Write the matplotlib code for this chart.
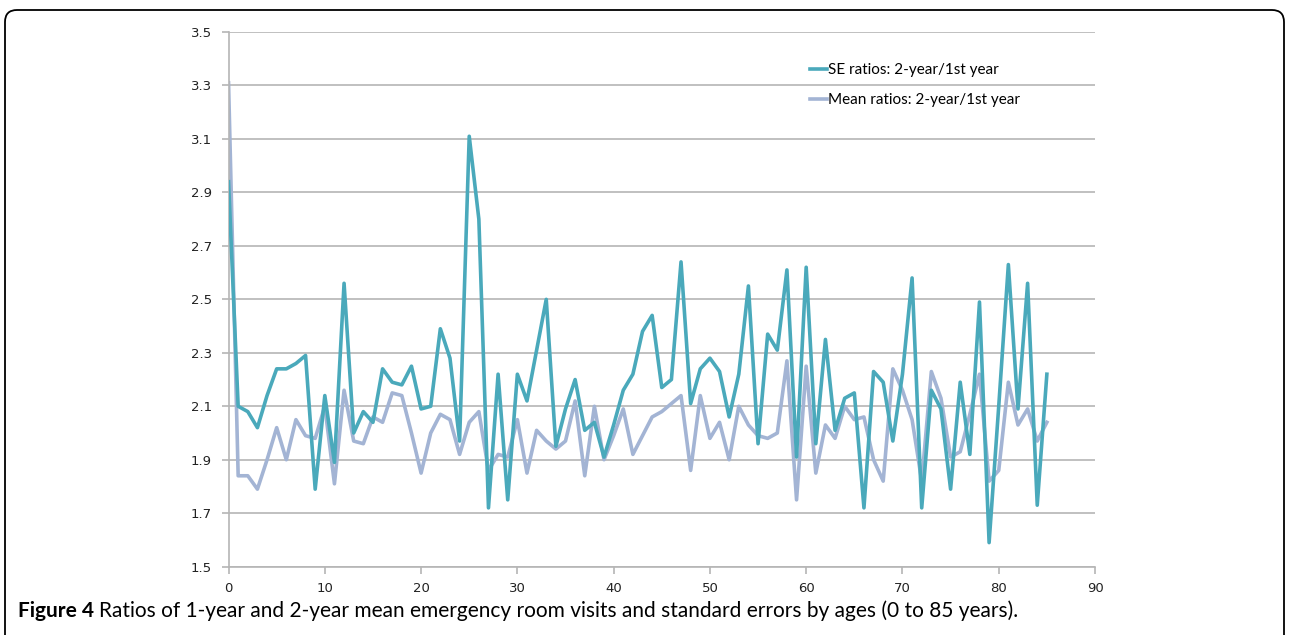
import matplotlib
matplotlib.use("Agg")
import matplotlib.pyplot as plt
from matplotlib.patches import FancyBboxPatch

# ages 0..85
ages = list(range(86))

se_ratio = [2.94, 2.10, 2.08, 2.02, 2.14, 2.24, 2.24, 2.26, 2.29, 1.79,
            2.14, 1.89, 2.56, 2.00, 2.08, 2.04, 2.24, 2.19, 2.18, 2.25,
            2.09, 2.10, 2.39, 2.28, 1.97, 3.11, 2.80, 1.72, 2.22, 1.75,
            2.22, 2.12, 2.31, 2.50, 1.95, 2.09, 2.20, 2.01, 2.04, 1.91,
            2.03, 2.16, 2.22, 2.38, 2.44, 2.17, 2.20, 2.64, 2.11, 2.24,
            2.28, 2.23, 2.06, 2.22, 2.55, 1.96, 2.37, 2.31, 2.61, 1.91,
            2.62, 1.96, 2.35, 2.01, 2.13, 2.15, 1.72, 2.23, 2.19, 1.97,
            2.22, 2.58, 1.72, 2.16, 2.09, 1.79, 2.19, 1.92, 2.49, 1.59,
            2.10, 2.63, 2.09, 2.56, 1.73, 2.22]

mean_ratio = [3.31, 1.84, 1.84, 1.79, 1.90, 2.02, 1.90, 2.05, 1.99, 1.98,
              2.10, 1.81, 2.16, 1.97, 1.96, 2.06, 2.04, 2.15, 2.14, 2.00,
              1.85, 2.00, 2.07, 2.05, 1.92, 2.04, 2.08, 1.86, 1.92, 1.91,
              2.05, 1.85, 2.01, 1.97, 1.94, 1.97, 2.12, 1.84, 2.10, 1.90,
              1.99, 2.09, 1.92, 1.99, 2.06, 2.08, 2.11, 2.14, 1.86, 2.14,
              1.98, 2.04, 1.90, 2.10, 2.03, 1.99, 1.98, 2.00, 2.27, 1.75,
              2.25, 1.85, 2.03, 1.98, 2.10, 2.05, 2.06, 1.90, 1.82, 2.24,
              2.16, 2.05, 1.82, 2.23, 2.13, 1.91, 1.93, 2.07, 2.22, 1.82,
              1.86, 2.19, 2.03, 2.09, 1.97, 2.04]

y_ticks = [1.5, 1.7, 1.9, 2.1, 2.3, 2.5, 2.7, 2.9, 3.1, 3.3, 3.5]
x_ticks = [0, 10, 20, 30, 40, 50, 60, 70, 80, 90]

fig = plt.figure(figsize=(12.89, 6.35), dpi=100)
ax = fig.add_axes([0.1773, 0.1076, 0.6722, 0.842])

grid_col = "#b5b5b5"
ax.plot(ages, se_ratio, color="#4aa9bb", lw=2.6, label="SE ratios: 2-year/1st year", zorder=3)
ax.plot(ages, mean_ratio, color="#a3b4d4", lw=2.6, label="Mean ratios: 2-year/1st year", zorder=2)

ax.set_xlim(0, 90)
ax.set_ylim(1.5, 3.5)
ax.set_yticks(y_ticks)
ax.set_yticklabels(["%.1f" % v for v in y_ticks])
ax.set_xticks(x_ticks)
ax.yaxis.grid(True, color=grid_col, lw=1.2)
ax.set_axisbelow(True)
for s in ["top", "right"]:
    ax.spines[s].set_visible(False)
for s in ["left", "bottom"]:
    ax.spines[s].set_color(grid_col)
    ax.spines[s].set_linewidth(1.2)
ax.tick_params(axis="both", direction="out", length=5, color=grid_col, width=1.2,
               labelsize=9.5, labelcolor="#222222")
ax.tick_params(axis="x", pad=6)
ax.tick_params(axis="y", pad=7)

leg = ax.legend(loc="upper left", bbox_to_anchor=(0.655, 0.968), frameon=False,
                handlelength=1.1, handletextpad=0.1, labelspacing=1.05,
                prop={"family": "Lato", "size": 11})

# rounded frame around the figure
frame = FancyBboxPatch((0.05, -0.6), 12.79, 6.85,
                       boxstyle="round,pad=0,rounding_size=0.12",
                       transform=fig.dpi_scale_trans, fill=False,
                       ec="black", lw=1.3)
fig.patches.append(frame)

# caption: bold label followed by regular text
renderer = fig.canvas.get_renderer()
t1 = fig.text(18 / 1289, 0.0378, "Figure 4", fontweight="bold", family="Lato",
              fontsize=15, va="center", ha="left")
bb = t1.get_window_extent(renderer=renderer)
fig.text((bb.x1 + 5) / 1289, 0.0378,
         "Ratios of 1-year and 2-year mean emergency room visits and standard errors by ages (0 to 85 years).",
         family="Lato", fontsize=15, va="center", ha="left")

fig.savefig("out.png", dpi=100)
